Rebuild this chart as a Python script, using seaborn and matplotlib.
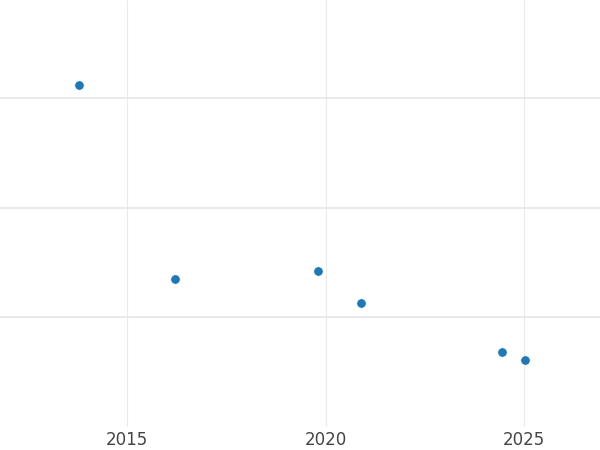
import matplotlib
matplotlib.use("Agg")
import matplotlib.pyplot as plt
import seaborn as sns
import pandas as pd

# dados
anos = [2013.78, 2016.20, 2019.81, 2020.89, 2024.45, 2025.03]
valores = [31.2, 13.5, 14.2, 11.3, 6.8, 6.1]
ticks_x = [2015, 2020, 2025]
ticks_y = [10, 20, 30]

df = pd.DataFrame({"ano": anos, "valor": valores})

sns.set_theme(style="whitegrid")
plt.rcParams['font.family'] = ['DejaVu Sans']

fig = plt.figure(figsize=(6, 4.5), dpi=100)
# área do gráfico ocupa toda a largura, deixando espaço embaixo para os anos
ax = fig.add_axes([0, 23 / 450, 1, 427 / 450])

sns.scatterplot(data=df, x="ano", y="valor", color="#1f77b4", s=45,
                edgecolor="white", linewidth=0.4, ax=ax)

ax.set_xlim(2011.79, 2026.92)
ax.set_ylim(0, 38.93)
ax.set_xticks(ticks_x)
ax.set_yticks(ticks_y)
ax.set_yticklabels([])
ax.tick_params(axis="x", labelsize=12, colors="#444444", length=0, pad=3)
ax.tick_params(axis="y", length=0)
ax.grid(axis="x", color="#ebebeb", linewidth=0.8)
ax.grid(axis="y", color="#e6e6e6", linewidth=1.2)
ax.set_xlabel("")
ax.set_ylabel("")
for s in ax.spines.values():
    s.set_visible(False)

fig.savefig("out.png", dpi=100)
